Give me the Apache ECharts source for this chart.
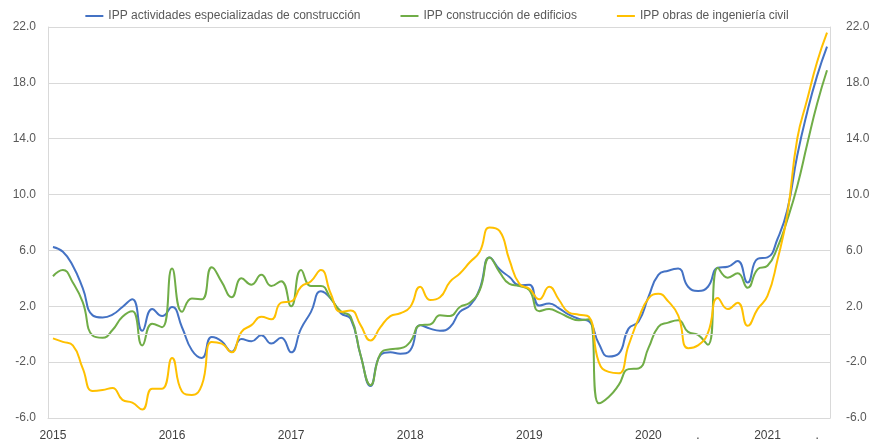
<!DOCTYPE html>
<html lang="es">
<head>
    <meta charset="UTF-8">
    <title>IPP construcción</title>
    <script src="https://cdn.jsdelivr.net/npm/echarts@6/dist/echarts.min.js"></script>
</head>
<body style="margin:0;">

<div id="chart_wrap" style="width: 874px; height: 446px;"></div>

<script>
    // monthly series, Jan 2015 .. Jul 2021
    var serie_names = [
        "IPP actividades especializadas de construcción",
        "IPP construcción de edificios",
        "IPP obras de ingeniería civil"
    ];

    var actividades = [6.25, 5.9, 4.9, 3.3, 1.35, 1.2, 1.4, 1.95, 2.5, 0.25, 1.8, 1.3,
        1.95, 0.5, -1.15, -1.7, -0.2, -0.5, -1.25, -0.35, -0.5, -0.07, -0.67, -0.26,
        -1.3, 0.4, 1.6, 3.07, 2.55, 1.5, 1.1, -1.5, -3.7, -1.5, -1.3, -1.4,
        -1.15, 0.65, 0.4, 0.25, 0.5, 1.6, 2.05, 3.25, 5.5, 4.65, 4.1, 3.5,
        3.55, 2.05, 2.2, 1.85, 1.4, 1.1, 0.93, -0.67, -1.6, -1.4, 0.4, 0.9,
        2.65, 4.25, 4.55, 4.7, 3.4, 3.1, 3.4, 4.76, 4.83, 5.24, 3.7, 5.4,
        5.5, 6.8, 8.9, 12.8, 15.9, 18.5, 20.6];

    var edificios = [4.15, 4.6, 3.7, 2.3, -0.1, -0.25, 0.3, 1.25, 1.65, -0.8, 0.75, 0.5,
        4.7, 1.6, 2.55, 2.5, 4.8, 3.75, 2.65, 4.0, 3.55, 4.25, 3.45, 3.8,
        2.0, 4.6, 3.45, 3.45, 2.55, 1.65, 1.25, -1.5, -3.65, -1.4, -1.07, -1.0,
        -0.55, 0.65, 0.7, 1.35, 1.3, 1.95, 2.25, 3.15, 5.5, 4.45, 3.6, 3.45,
        3.15, 1.65, 1.8, 1.55, 1.2, 1.0, 1.07, -4.95, -4.5, -3.65, -2.5, -2.45,
        -1.0, 0.52, 0.83, 1.0, 0.17, -0.05, -0.75, 4.76, 4.05, 4.36, 3.33, 4.64,
        4.9, 6.2, 8.2, 10.6, 13.6, 16.5, 18.9];

    var ingenieria = [-0.3, -0.55, -0.8, -2.45, -4.07, -4.0, -3.85, -4.7, -4.9, -5.4, -3.9, -3.9,
        -1.7, -4.1, -4.35, -3.65, -0.55, -0.67, -1.3, 0.17, 0.65, 1.25, 1.07, 2.26,
        2.35, 3.4, 3.8, 4.6, 2.9, 1.6, 1.7, 0.65, -0.45, 0.5, 1.3, 1.5,
        1.95, 3.4, 2.45, 2.65, 3.75, 4.35, 5.15, 5.9, 7.65, 7.4, 5.3, 3.6,
        3.25, 2.5, 3.4, 2.45, 1.55, 1.4, 1.25, -2.0, -2.7, -2.8, -0.8, 1.1,
        2.55, 2.9, 2.35, 1.35, -1.0, -0.8, 0.1, 2.6, 1.8, 2.26, 0.6, 1.8,
        2.74, 5.3, 8.6, 14.0, 16.8, 19.5, 21.6];

    // x axis labels (month index -> text)
    var tick_pos = [0, 12, 24, 36, 48, 60, 65, 72, 77];
    var tick_text = ["2015", "2016", "2017", "2018", "2019", "2020", ".", "2021", "."];

    var color_arr = ["#4472C4", "#70AD47", "#FFC000"];

    function toPairs(arr) {
        var out = [];
        for (var i = 0; i < arr.length; i++) {
            out.push([i, arr[i]]);
        }
        return out;
    }

    var chart = echarts.init(document.getElementById("chart_wrap"));

    var label_style = {
        color: "#595959",
        fontSize: 12,
        fontFamily: "Liberation Sans",
        formatter: function (v) { return v.toFixed(1); }
    };

    var all_data = [actividades, edificios, ingenieria];
    var series = [];
    for (var s = 0; s < all_data.length; s++) {
        var one = {
            name: serie_names[s],
            type: "line",
            data: toPairs(all_data[s]),
            smooth: 0.5,
            showSymbol: false,
            symbol: "none",
            z: 3,
            lineStyle: { color: color_arr[s], width: 2 },
            itemStyle: { color: color_arr[s] }
        };
        series.push(one);
    }
    // extra horizontal line at zero
    series[0].markLine = {
        silent: true,
        symbol: "none",
        label: { show: false },
        lineStyle: { color: "#d9d9d9", type: "solid", width: 1 },
        data: [{ yAxis: 0 }]
    };

    var option = {
        animation: false,
        backgroundColor: "#fff",
        legend: {
            top: 5,
            left: "center",
            icon: "rect",
            itemWidth: 18,
            itemHeight: 2,
            itemGap: 40,
            textStyle: { color: "#595959", fontSize: 12, fontFamily: "Liberation Sans" },
            data: serie_names
        },
        grid: { left: 48, right: 44, top: 27, bottom: 28 },
        xAxis: {
            type: "value",
            min: -0.5,
            max: 78.3,
            splitLine: { show: false },
            axisTick: { show: false },
            axisLine: { onZero: false, lineStyle: { color: "#d9d9d9" } },
            axisLabel: {
                customValues: tick_pos,
                margin: 12,
                color: "#404040",
                fontSize: 12,
                fontFamily: "Liberation Sans",
                formatter: function (v) {
                    var k = tick_pos.indexOf(v);
                    return k >= 0 ? tick_text[k] : "";
                }
            }
        },
        yAxis: [
            {
                type: "value",
                min: -6,
                max: 22,
                interval: 4,
                position: "left",
                axisLine: { show: true, onZero: false, lineStyle: { color: "#d9d9d9" } },
                axisTick: { show: false },
                splitLine: { lineStyle: { color: "#d9d9d9" } },
                axisLabel: Object.assign({ margin: 12 }, label_style)
            },
            {
                type: "value",
                min: -6,
                max: 22,
                interval: 4,
                position: "right",
                axisLine: { show: true, onZero: false, lineStyle: { color: "#d9d9d9" } },
                axisTick: { show: false },
                splitLine: { show: false },
                axisLabel: Object.assign({ margin: 16 }, label_style)
            }
        ],
        series: series
    };

    chart.setOption(option);
</script>
</body>
</html>
